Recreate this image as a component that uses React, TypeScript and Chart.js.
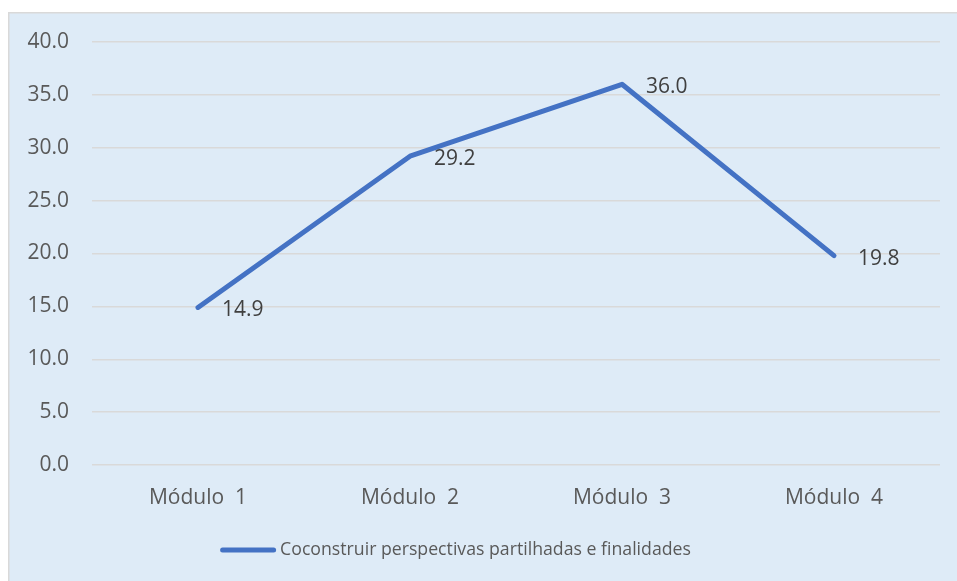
import React, { useEffect, useRef } from "react";
import { Chart, registerables } from "chart.js";

Chart.register(...registerables);

const categories = ["Módulo  1", "Módulo  2", "Módulo  3", "Módulo  4"];
const seriesName = "Coconstruir perspectivas partilhadas e finalidades";
const seriesValues = [14.9, 29.2, 36.0, 19.8];
const yMin = 0;
const yMax = 40;
const yStep = 5;

const LINE_COLOR = "#4472C4";
const BG_COLOR = "#DEEBF7";
const GRID_COLOR = "#D9D9D9";
const TEXT_COLOR = "#595959";
const FONT = "'Open Sans', sans-serif";

const backgroundPlugin = {
  id: "bgBox",
  beforeDraw(chart: any) {
    const { ctx, width, height } = chart;
    ctx.save();
    ctx.fillStyle = "#FFFFFF";
    ctx.fillRect(0, 0, width, height);
    ctx.fillStyle = BG_COLOR;
    ctx.fillRect(8, 12, width - 8, height - 12 + 4);
    ctx.strokeStyle = GRID_COLOR;
    ctx.lineWidth = 1.5;
    ctx.strokeRect(8.75, 12.75, width - 9.5 + 2, height + 10);
    ctx.restore();
  },
};

const labelsPlugin = {
  id: "valueLabels",
  afterDatasetsDraw(chart: any) {
    const { ctx } = chart;
    const meta = chart.getDatasetMeta(0);
    const data = chart.data.datasets[0].data as number[];
    ctx.save();
    ctx.font = `21px ${FONT}`;
    ctx.fillStyle = "#404040";
    ctx.textAlign = "left";
    ctx.textBaseline = "middle";
    meta.data.forEach((pt: any, i: number) => {
      ctx.fillText(data[i].toFixed(1), pt.x + 24, pt.y + 3);
    });
    ctx.restore();
  },
};

const legendPlugin = {
  id: "customLegend",
  afterDraw(chart: any) {
    const { ctx } = chart;
    const ds = chart.data.datasets[0];
    ctx.save();
    ctx.font = `17.7px ${FONT}`;
    const tw = ctx.measureText(ds.label).width;
    const lineW = 56;
    const gap = 4;
    const total = lineW + gap + tw;
    const cx = 455.5;
    const y = 550;
    const x0 = cx - total / 2;
    ctx.strokeStyle = ds.borderColor;
    ctx.lineWidth = 5;
    ctx.lineCap = "round";
    ctx.beginPath();
    ctx.moveTo(x0 + 2.5, y);
    ctx.lineTo(x0 + lineW - 2.5, y);
    ctx.stroke();
    ctx.fillStyle = TEXT_COLOR;
    ctx.textAlign = "left";
    ctx.textBaseline = "middle";
    ctx.fillText(ds.label, x0 + lineW + gap, y);
    ctx.restore();
  },
};

export default function App() {
  const ref = useRef<HTMLCanvasElement | null>(null);

  useEffect(() => {
    if (!ref.current) return;
    const chart = new Chart(ref.current, {
      type: "line",
      data: {
        labels: categories,
        datasets: [
          {
            label: seriesName,
            data: seriesValues,
            borderColor: LINE_COLOR,
            backgroundColor: LINE_COLOR,
            borderWidth: 5,
            pointRadius: 0,
            pointHoverRadius: 0,
            tension: 0,
            borderCapStyle: "round",
            borderJoinStyle: "round",
            fill: false,
          },
        ],
      },
      options: {
        animation: false,
        responsive: false,
        maintainAspectRatio: false,
        devicePixelRatio: 1,
        layout: { padding: { top: 42, right: 17, bottom: 56, left: 0 } },
        plugins: {
          legend: { display: false },
          tooltip: { enabled: false },
        },
        scales: {
          x: {
            offset: true,
            grid: { display: false, drawTicks: false },
            border: { display: false },
            ticks: {
              color: TEXT_COLOR,
              font: { family: FONT, size: 21 },
              padding: 20,
              maxRotation: 0,
              autoSkip: false,
            },
            afterFit: (s: any) => {
              s.height = 60;
            },
          },
          y: {
            min: yMin,
            max: yMax,
            grid: { color: GRID_COLOR, lineWidth: 1.5, drawTicks: false },
            border: { display: false },
            ticks: {
              stepSize: yStep,
              color: TEXT_COLOR,
              font: { family: FONT, size: 21 },
              padding: 23,
              callback: (v: any) => Number(v).toFixed(1),
            },
            afterFit: (s: any) => {
              s.width = 92;
            },
          },
        },
      },
      plugins: [backgroundPlugin, labelsPlugin, legendPlugin],
    });
    return () => chart.destroy();
  }, []);

  return (
    <div style={{ position: "absolute", left: 0, top: 0, width: 957, height: 581 }}>
      <canvas ref={ref} width={957} height={581} style={{ width: 957, height: 581, display: "block" }} />
    </div>
  );
}
